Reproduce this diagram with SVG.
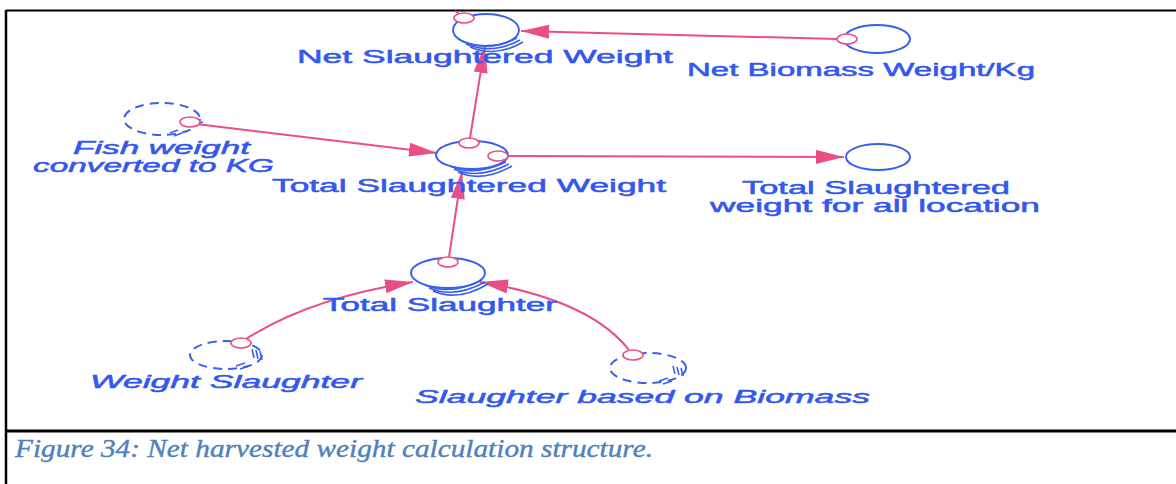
<svg xmlns="http://www.w3.org/2000/svg" width="1176" height="484" viewBox="0 0 1176 484">
  <style>
    .lbl { font-family: "Liberation Sans", Arial, sans-serif; font-size: 18px; fill: #3358ee; stroke: #3358ee; stroke-width: 0.5; }
    .it { font-style: italic; }
    .node { fill: none; stroke: #3a5ef0; stroke-width: 2; }
    .ghost { fill: none; stroke: #3a5ef0; stroke-width: 2; stroke-dasharray: 9 6; }
    .stack { fill: none; stroke: #3a5ef0; stroke-width: 1.6; }
    .hatch { stroke: #3a5ef0; stroke-width: 1.6; }
    .conn { fill: none; stroke: #ea4f83; stroke-width: 2; }
    .origin { fill: #ffffff; stroke: #ea4f83; stroke-width: 1.6; }
    .cap { font-family: "Liberation Serif", "Times New Roman", serif; font-style: italic; font-size: 26px; fill: #4f81bd; stroke: #4f81bd; stroke-width: 0.4; }
  </style>
  <defs>
    <marker id="ah" markerUnits="userSpaceOnUse" markerWidth="30" markerHeight="16" refX="28" refY="7" orient="auto">
      <path d="M0,0 L28,7 L0,14 z" fill="#ea4f83"/>
    </marker>
  </defs>
  <rect width="1176" height="484" fill="#ffffff"/>
  <g id="frame" stroke="#000" fill="none">
    <line x1="6" y1="10.5" x2="1176" y2="10.5" stroke-width="2"/>
    <line x1="6" y1="10" x2="6" y2="484" stroke-width="2.5"/>
    <line x1="6" y1="431" x2="1176" y2="431" stroke-width="3"/>
  </g>

  <g id="connectors">
    <line class="conn" x1="455" y1="11" x2="462" y2="16"/>
    <path id="c1" class="conn" d="M838,39 L521,31" marker-end="url(#ah)"/>
    <path id="c2" class="conn" d="M470,138 L485,45" marker-end="url(#ah)"/>
    <path id="c3" class="conn" d="M196,124 L437,153" marker-end="url(#ah)"/>
    <path id="c4" class="conn" d="M507,156 L844,157" marker-end="url(#ah)"/>
    <path id="c5" class="conn" d="M449,257 L462,171" marker-end="url(#ah)"/>
    <path id="c6" class="conn" d="M246,339 Q310,298 413,282" marker-end="url(#ah)"/>
    <path id="c7" class="conn" d="M629,350 Q590,300 480,282" marker-end="url(#ah)"/>
  </g>

  <g id="net-slaughtered-weight">
    <ellipse class="node" cx="486" cy="30" rx="33" ry="16"/>
    <path class="stack" d="M462,41 Q488,52 517,38"/>
    <path class="stack" d="M466,44 Q492,55 520,40"/>
    <path class="stack" d="M470,47 Q496,58 523,42"/>
    <ellipse class="origin" cx="464" cy="18" rx="10" ry="5"/>
    <text class="lbl" x="297" y="63" textLength="376" lengthAdjust="spacingAndGlyphs">Net Slaughtered Weight</text>
  </g>

  <g id="net-biomass-weight-kg">
    <ellipse class="node" cx="877" cy="39" rx="33" ry="14"/>
    <ellipse class="origin" cx="847" cy="39" rx="10" ry="5"/>
    <text class="lbl" x="687" y="76" textLength="348" lengthAdjust="spacingAndGlyphs">Net Biomass Weight/Kg</text>
  </g>

  <g id="fish-weight-converted">
    <ellipse class="ghost" cx="162" cy="119" rx="38" ry="16"/>
    <line class="hatch" x1="170" y1="133" x2="178" y2="130"/>
    <line class="hatch" x1="174" y1="136" x2="182" y2="133"/>
    <line class="hatch" x1="195" y1="124" x2="203" y2="122"/>
    <ellipse class="origin" cx="190" cy="122" rx="10" ry="5"/>
    <text class="lbl it" x="73" y="154" textLength="177" lengthAdjust="spacingAndGlyphs">Fish weight</text>
    <text class="lbl it" x="33" y="172" textLength="241" lengthAdjust="spacingAndGlyphs">converted to KG</text>
  </g>

  <g id="total-slaughtered-weight">
    <ellipse class="node" cx="472" cy="155" rx="36" ry="14"/>
    <path class="stack" d="M450,166 Q474,177 506,162"/>
    <path class="stack" d="M454,169 Q478,180 509,164"/>
    <path class="stack" d="M458,172 Q482,183 512,166"/>
    <ellipse class="origin" cx="469" cy="143" rx="10" ry="5"/>
    <ellipse class="origin" cx="498" cy="156" rx="10" ry="5"/>
    <text class="lbl" x="272" y="192" textLength="394" lengthAdjust="spacingAndGlyphs">Total Slaughtered Weight</text>
  </g>

  <g id="total-slaughtered-all-location">
    <ellipse class="node" cx="878" cy="157" rx="32" ry="13"/>
    <text class="lbl" x="742" y="194" textLength="268" lengthAdjust="spacingAndGlyphs">Total Slaughtered</text>
    <text class="lbl" x="710" y="212" textLength="330" lengthAdjust="spacingAndGlyphs">weight for all location</text>
  </g>

  <g id="total-slaughter">
    <ellipse class="node" cx="448" cy="273" rx="37" ry="15"/>
    <path class="stack" d="M425,285 Q450,296 482,280"/>
    <path class="stack" d="M429,288 Q454,299 485,282"/>
    <path class="stack" d="M433,291 Q458,302 488,284"/>
    <ellipse class="origin" cx="448" cy="262" rx="10" ry="5"/>
    <text class="lbl" x="323" y="311" textLength="234" lengthAdjust="spacingAndGlyphs">Total Slaughter</text>
  </g>

  <g id="weight-slaughter">
    <ellipse class="ghost" cx="226" cy="355" rx="36" ry="14"/>
    <line class="hatch" x1="252" y1="349" x2="254" y2="358"/>
    <line class="hatch" x1="256" y1="350" x2="258" y2="359"/>
    <line class="hatch" x1="260" y1="351" x2="262" y2="360"/>
    <line class="hatch" x1="236" y1="366" x2="245" y2="363"/>
    <line class="hatch" x1="240" y1="369" x2="249" y2="366"/>
    <ellipse class="origin" cx="241" cy="343" rx="10" ry="5"/>
    <text class="lbl it" x="90" y="388" textLength="272" lengthAdjust="spacingAndGlyphs">Weight Slaughter</text>
  </g>

  <g id="slaughter-based-on-biomass">
    <ellipse class="ghost" cx="648" cy="368" rx="38" ry="15"/>
    <line class="hatch" x1="673" y1="366" x2="675" y2="374"/>
    <line class="hatch" x1="677" y1="367" x2="679" y2="375"/>
    <line class="hatch" x1="681" y1="368" x2="683" y2="376"/>
    <line class="hatch" x1="659" y1="381" x2="668" y2="378"/>
    <line class="hatch" x1="663" y1="384" x2="672" y2="381"/>
    <ellipse class="origin" cx="633" cy="355" rx="10" ry="5"/>
    <text class="lbl it" x="415" y="403" textLength="455" lengthAdjust="spacingAndGlyphs">Slaughter based on Biomass</text>
  </g>

  <text class="cap" x="15" y="457" textLength="638" lengthAdjust="spacingAndGlyphs">Figure 34: Net harvested weight calculation structure.</text>
</svg>
